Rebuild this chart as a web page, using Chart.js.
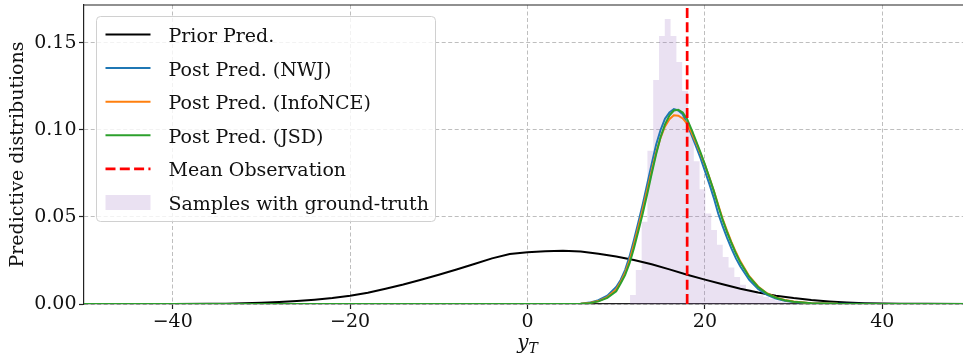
<!DOCTYPE html>
<html>
<head>
<meta charset="utf-8">
<script src="https://cdn.jsdelivr.net/npm/chart.js@4.4.1/dist/chart.umd.min.js"></script>
<style>
  html, body { margin: 0; padding: 0; overflow: hidden; background: #fff; }
  canvas { display: block; }
</style>
</head>
<body>
<canvas id="chart" width="975" height="360"></canvas>
<script>
// ========= data =========

const xTicks = [-40, -20, 0, 20, 40];
const yTicks = [0, 0.05, 0.10, 0.15];

// prior predictive (black)
const priorX = [-50, -40, -36, -34, -32, -30, -28, -26, -24, -22,
                -20, -18, -16, -14, -12, -10, -8, -6, -4, -2,
                0, 2, 4, 6, 8, 10, 12, 14, 16, 18,
                20, 22, 24, 26, 28, 30, 32, 34, 36, 38,
                40, 42, 45, 50];
const priorY = [0, 0.00003, 0.0001, 0.0002, 0.0004, 0.0007, 0.0011, 0.0017, 0.0025, 0.0035,
                0.0048, 0.0065, 0.0088, 0.0112, 0.0139, 0.0168, 0.0198, 0.0230, 0.0262, 0.0287,
                0.0297, 0.0303, 0.0306, 0.0301, 0.0289, 0.0273, 0.0253, 0.0228, 0.0199, 0.0168,
                0.0140, 0.0113, 0.0088, 0.0066, 0.0048, 0.0034, 0.0023, 0.0015, 0.0009, 0.0005,
                0.0003, 0.0002, 0.0001, 0];

// posterior predictives
const postX = [-50, 0, 5, 6, 7, 8, 9, 10,
               10.5, 11, 11.5, 12, 12.5, 13, 13.5, 14, 14.5, 15,
               15.5, 16, 16.5, 17, 17.5, 18, 18.5, 19, 19.5, 20,
               20.5, 21, 21.5, 22, 22.5, 23, 23.5, 24,
               25, 26, 27, 28, 29, 30, 32, 35, 40, 50];
const nwj = [0, 0, 0.00005, 0.0002, 0.0008, 0.0022, 0.0048, 0.0098,
             0.0138, 0.0195, 0.0272, 0.0368, 0.0470, 0.0575, 0.0690, 0.0805, 0.0915, 0.1000,
             0.1065, 0.1100, 0.1120, 0.1112, 0.1090, 0.1035, 0.0970, 0.0905, 0.0840, 0.0765,
             0.0690, 0.0610, 0.0520, 0.0447, 0.0380, 0.0318, 0.0262, 0.0215,
             0.0138, 0.0086, 0.0052, 0.0031, 0.0019, 0.0011, 0.0004, 0.0001, 0, 0];
const infonce = [0, 0, 0.00004, 0.00015, 0.0006, 0.0017, 0.0040, 0.0083,
                 0.0126, 0.0178, 0.0250, 0.0342, 0.0442, 0.0545, 0.0655, 0.0765, 0.0870, 0.0955,
                 0.1020, 0.1062, 0.1084, 0.1082, 0.1066, 0.1035, 0.0985, 0.0928, 0.0866, 0.0800,
                 0.0728, 0.0652, 0.0570, 0.0490, 0.0420, 0.0356, 0.0297, 0.0245,
                 0.0160, 0.0101, 0.0062, 0.0038, 0.0023, 0.0014, 0.0005, 0.0001, 0, 0];
const jsd = [0, 0, 0.00003, 0.00012, 0.0005, 0.0015, 0.0035, 0.0073,
             0.0118, 0.0166, 0.0233, 0.0320, 0.0419, 0.0522, 0.0632, 0.0748, 0.0860, 0.0958,
             0.1032, 0.1083, 0.1112, 0.1116, 0.1100, 0.1062, 0.1002, 0.0938, 0.0872, 0.0802,
             0.0727, 0.0650, 0.0565, 0.0483, 0.0413, 0.0349, 0.0290, 0.0238,
             0.0155, 0.0098, 0.0060, 0.0036, 0.0022, 0.0013, 0.0005, 0.0001, 0, 0];

const meanObservation = 18;

// histogram of samples (density)
const histEdges = [11.56, 12.21, 12.87, 13.52, 14.17, 14.83, 15.48, 16.13, 16.79, 17.44,
                   18.09, 18.75, 19.40, 20.05, 20.71, 21.36, 22.01, 22.67, 23.32, 23.97,
                   24.63, 25.28, 25.93, 26.59, 27.24, 27.89, 28.55, 29.20, 29.85, 30.51, 31.16];
const histDensity = [0.0006, 0.0052, 0.0195, 0.0473, 0.088, 0.1287, 0.154, 0.1638, 0.154, 0.139,
                     0.1224, 0.0994, 0.082, 0.066, 0.052, 0.0425, 0.034, 0.027, 0.021, 0.0155,
                     0.011, 0.0085, 0.0075, 0.005, 0.004, 0.003, 0.002, 0.0015, 0.001, 0.0005];

const legendOrder = ["Prior Pred.", "Post Pred. (NWJ)", "Post Pred. (InfoNCE)",
                     "Post Pred. (JSD)", "Mean Observation", "Samples with ground-truth"];

// ========= helpers =========

const FONT = "'DejaVu Serif', serif";
const TXT = "#111";
const toXY = (xs, ys) => xs.map((x, i) => ({ x: x, y: ys[i] }));
const histPts = histDensity.map((d, i) => ({ x: histEdges[i], y: d }))
  .concat([{ x: histEdges[histEdges.length - 1], y: 0 }]);
const fmtX = v => (v < 0 ? "\u2212" + Math.abs(v) : String(v));

// top spine (matplotlib box)
const frame = {
  id: "frame",
  afterDraw(chart) {
    const { ctx, chartArea: a } = chart;
    ctx.save();
    ctx.strokeStyle = "#222";
    ctx.lineWidth = 1.2;
    ctx.beginPath();
    ctx.moveTo(a.left, a.top);
    ctx.lineTo(a.right, a.top);
    ctx.stroke();
    ctx.restore();
  }
};

// x label y_T with subscript
const xTitle = {
  id: "xTitle",
  afterDraw(chart) {
    const { ctx, chartArea: a } = chart;
    const cx = (a.left + a.right) / 2;
    ctx.save();
    ctx.fillStyle = TXT;
    ctx.textBaseline = "alphabetic";
    ctx.font = "italic 20px " + FONT;
    ctx.textAlign = "right";
    ctx.fillText("y", cx + 1, 349);
    ctx.textAlign = "left";
    ctx.font = "italic 14px " + FONT;
    ctx.fillText("T", cx + 1, 353);
    ctx.restore();
  }
};

// legend box in upper-left corner of the axes
const legendBox = {
  id: "legendBox",
  afterDraw(chart) {
    const { ctx, chartArea: a } = chart;
    const x0 = a.left + 12.5, y0 = a.top + 11.5, w = 339, h = 205;
    ctx.save();
    ctx.beginPath();
    ctx.roundRect(x0, y0, w, h, 4);
    ctx.fillStyle = "rgba(255,255,255,0.8)";
    ctx.fill();
    ctx.strokeStyle = "#d0d0d0";
    ctx.lineWidth = 1;
    ctx.stroke();
    ctx.font = "19px " + FONT;
    ctx.textBaseline = "alphabetic";
    legendOrder.forEach((label, i) => {
      const ds = chart.data.datasets.find(d => d.label === label);
      const cy = y0 + 18 + i * 33.6;
      if (ds.fill) {
        ctx.fillStyle = ds.backgroundColor;
        ctx.fillRect(x0 + 9, cy - 7.5, 45, 15);
      } else {
        ctx.beginPath();
        ctx.setLineDash(ds.borderDash || []);
        ctx.strokeStyle = ds.borderColor;
        ctx.lineWidth = ds.borderWidth;
        ctx.moveTo(x0 + 9, cy);
        ctx.lineTo(x0 + 54, cy);
        ctx.stroke();
        ctx.setLineDash([]);
      }
      ctx.fillStyle = TXT;
      ctx.fillText(label, x0 + 72, cy + 7.5);
    });
    ctx.restore();
  }
};

// ========= chart =========

const gridOpts = {
  color: "#bebebe",
  lineWidth: 1,
  tickLength: 5,
  tickColor: "#222",
  tickWidth: 1.2
};
const borderOpts = { display: true, color: "#222", width: 1.2, dash: [4, 2.5] };

new Chart(document.getElementById("chart"), {
  type: "line",
  data: {
    datasets: [
      {
        label: "Mean Observation",
        data: [{ x: meanObservation, y: 0 }, { x: meanObservation, y: 0.2 }],
        borderColor: "#ff0000",
        borderWidth: 2.7,
        borderDash: [10, 4.3],
        pointRadius: 0,
        clip: 0
      },
      {
        label: "Post Pred. (JSD)",
        data: toXY(postX, jsd),
        borderColor: "#2ca02c",
        borderWidth: 2,
        pointRadius: 0
      },
      {
        label: "Post Pred. (InfoNCE)",
        data: toXY(postX, infonce),
        borderColor: "#ff7f0e",
        borderWidth: 2,
        pointRadius: 0
      },
      {
        label: "Post Pred. (NWJ)",
        data: toXY(postX, nwj),
        borderColor: "#1f77b4",
        borderWidth: 2,
        pointRadius: 0
      },
      {
        label: "Prior Pred.",
        data: toXY(priorX, priorY),
        borderColor: "#000000",
        borderWidth: 2,
        pointRadius: 0
      },
      {
        label: "Samples with ground-truth",
        data: histPts,
        stepped: "after",
        fill: "origin",
        backgroundColor: "rgba(148,103,189,0.2)",
        borderColor: "rgba(0,0,0,0)",
        borderWidth: 0,
        pointRadius: 0
      }
    ]
  },
  options: {
    responsive: false,
    maintainAspectRatio: false,
    animation: false,
    devicePixelRatio: 1,
    layout: { padding: { left: 0, right: 4, top: 5, bottom: 0 } },
    plugins: {
      legend: { display: false },
      tooltip: { enabled: false }
    },
    scales: {
      x: {
        type: "linear",
        min: -50,
        max: 50,
        afterBuildTicks: s => { s.ticks = xTicks.map(v => ({ value: v })); },
        afterFit: s => { s.height = 56; s.paddingLeft = 0; s.paddingRight = 0; },
        grid: gridOpts,
        border: borderOpts,
        ticks: {
          font: { family: FONT, size: 19 },
          color: TXT,
          padding: 2,
          maxRotation: 0,
          callback: v => fmtX(v)
        }
      },
      y: {
        min: 0,
        max: 0.1718,
        afterBuildTicks: s => { s.ticks = yTicks.map(v => ({ value: v })); },
        afterFit: s => { s.width = 84; s.paddingTop = 0; s.paddingBottom = 0; },
        grid: gridOpts,
        border: borderOpts,
        ticks: {
          font: { family: FONT, size: 19 },
          color: TXT,
          padding: 2.5,
          callback: v => v.toFixed(2)
        },
        title: {
          display: true,
          text: "Predictive distributions",
          font: { family: FONT, size: 19 },
          color: TXT,
          padding: { top: 6.6, bottom: 0 }
        }
      }
    }
  },
  plugins: [frame, xTitle, legendBox]
});
</script>
</body>
</html>
